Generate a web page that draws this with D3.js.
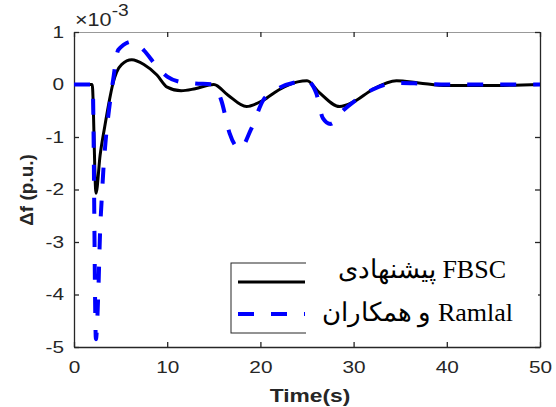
<!DOCTYPE html>
<html>
<head>
<meta charset="utf-8">
<script src="https://cdn.jsdelivr.net/npm/d3@7"></script>
<style>
  body { margin: 0; background: #fff; }
  svg { display: block; }
  .tick text { font-family: "Liberation Sans", Arial, sans-serif; font-size: 16px; fill: #262626; }
</style>
</head>
<body>
<div id="chart"></div>
<script>
"use strict";

// FBSC (proposed) response, time in s, value in 1e-3 p.u.
let fbscTime = [0, 1.95, 2.36, 2.8, 3.3, 3.8, 4.15, 5.1, 6.2, 7.5, 8.9, 10, 11.5, 13, 15, 16.5, 18.5, 20.3, 22, 24, 25, 26.3, 28.5, 30, 32, 34.6, 37, 40, 44, 50];
let fbscValue = [0, 0, -2.07, -1.35, -0.8, -0.3, 0, 0.38, 0.47, 0.38, 0.18, -0.05, -0.12, -0.08, 0.0, -0.2, -0.42, -0.3, -0.1, 0.05, 0.07, -0.15, -0.42, -0.33, -0.1, 0.07, 0.03, -0.02, -0.02, 0];

// Ramlal et al. response
let ramlalTime = [0, 2.0, 2.35, 2.6, 2.8, 3.0, 3.15, 3.4, 3.75, 4.2, 4.75, 6.3, 7.5, 8.9, 10, 11.4, 13, 14.9, 15.8, 16.7, 17.8, 19, 20.3, 21.5, 24, 25, 26.0, 26.7, 27.5, 28.9, 30, 32, 34.6, 37, 40, 50];
let ramlalValue = [0, 0, -4.85, -4.0, -2.8, -2.1, -1.63, -1.06, -0.49, 0.09, 0.66, 0.82, 0.65, 0.34, 0.15, 0.05, 0.02, 0.0, -0.3, -0.93, -1.23, -0.85, -0.3, -0.12, 0.05, 0.07, -0.17, -0.64, -0.75, -0.49, -0.33, -0.1, 0.03, 0.02, 0, 0];

let xTicks = [0, 10, 20, 30, 40, 50];
let yTicks = [1, 0, -1, -2, -3, -4, -5];
let legendLabels = ["\u067E\u06CC\u0634\u0646\u0647\u0627\u062F\u06CC FBSC", "\u0648 \u0647\u0645\u06A9\u0627\u0631\u0627\u0646 Ramlal"];

let width = 556, height = 407;
let margin = { top: 32, right: 16, bottom: 60, left: 74 };
let stretch = 1.3; // text in the source image is widened horizontally

let svg = d3.select("#chart").append("svg")
  .attr("width", width)
  .attr("height", height);

let x = d3.scaleLinear().domain([0, 50]).range([margin.left, width - margin.right]);
let y = d3.scaleLinear().domain([-5, 1]).range([height - margin.bottom, margin.top]);

let fmt = d => String(d);

// axes, ticks pointing inward
let xAxis = svg.append("g")
  .attr("transform", "translate(0," + y.range()[0] + ")")
  .call(d3.axisBottom(x).tickValues(xTicks).tickFormat(fmt).tickSizeInner(-5).tickSizeOuter(0).tickPadding(15));
let xTop = svg.append("g")
  .attr("transform", "translate(0," + y.range()[1] + ")")
  .call(d3.axisTop(x).tickValues(xTicks).tickSizeInner(-5).tickSizeOuter(0).tickFormat(""));
let yAxis = svg.append("g")
  .attr("transform", "translate(" + x.range()[0] + ",0)")
  .call(d3.axisLeft(y).tickValues(yTicks).tickFormat(fmt).tickSizeInner(-5).tickSizeOuter(0).tickPadding(10));
let yRight = svg.append("g")
  .attr("transform", "translate(" + x.range()[1] + ",0)")
  .call(d3.axisRight(y).tickValues(yTicks).tickSizeInner(-5).tickSizeOuter(0).tickFormat(""));

[xAxis, xTop, yAxis, yRight].forEach(function(g) {
  g.select(".domain").attr("stroke", "#262626").attr("stroke-width", 1.3);
  g.selectAll(".tick line").attr("stroke", "#262626").attr("stroke-width", 1.3);
});
xTop.select(".domain").attr("stroke", "#999").attr("stroke-width", 1);

xAxis.selectAll(".tick text")
  .attr("transform", "scale(" + stretch + ",1)");
yAxis.selectAll(".tick text")
  .attr("x", -10 / stretch)
  .attr("transform", "scale(" + stretch + ",1)");

// exponent label
let expo = svg.append("text")
  .attr("transform", "translate(75,26) scale(1.2,1)")
  .style("font-family", "Liberation Sans, Arial, sans-serif")
  .style("font-size", "18px")
  .attr("fill", "#262626");
expo.append("tspan").text("\u00D710");
expo.append("tspan").attr("dy", -10).style("font-size", "16px").text("-3");

// axis titles
svg.append("text")
  .attr("transform", "translate(310,402) scale(1.2,1)")
  .attr("text-anchor", "middle")
  .style("font-family", "Liberation Sans, Arial, sans-serif")
  .style("font-size", "19px")
  .style("font-weight", "bold")
  .attr("fill", "#262626")
  .text("Time(s)");

svg.append("text")
  .attr("transform", "translate(33,190) rotate(-90)")
  .attr("text-anchor", "middle")
  .style("font-family", "Liberation Sans, Arial, sans-serif")
  .style("font-size", "19px")
  .style("font-weight", "bold")
  .attr("fill", "#262626")
  .text("\u0394f (p.u.)");

// curves
let line = d3.line()
  .x(d => x(d[0]))
  .y(d => y(d[1]))
  .curve(d3.curveMonotoneX);

svg.append("clipPath").attr("id", "plotClip")
  .append("rect")
  .attr("x", x.range()[0])
  .attr("y", y.range()[1])
  .attr("width", x.range()[1] - x.range()[0])
  .attr("height", y.range()[0] - y.range()[1]);

let plot = svg.append("g").attr("clip-path", "url(#plotClip)");

plot.append("path")
  .datum(d3.zip(fbscTime, fbscValue))
  .attr("fill", "none")
  .attr("stroke", "#000")
  .attr("stroke-width", 3)
  .attr("d", line);

plot.append("path")
  .datum(d3.zip(ramlalTime, ramlalValue))
  .attr("fill", "none")
  .attr("stroke", "#0000ff")
  .attr("stroke-width", 4)
  .attr("stroke-dasharray", "16,17")
  .attr("d", line);

// legend: box edges only visible on the left part, text has a white backing
let legend = svg.append("g");
legend.append("rect")
  .attr("x", 231).attr("y", 263)
  .attr("width", 300).attr("height", 70)
  .attr("fill", "#fff")
  .attr("stroke", "#262626")
  .attr("stroke-width", 1);
legend.append("rect")
  .attr("x", 306).attr("y", 262)
  .attr("width", 232).attr("height", 72)
  .attr("fill", "#fff");

legend.append("line")
  .attr("x1", 238).attr("x2", 305)
  .attr("y1", 282).attr("y2", 282)
  .attr("stroke", "#000").attr("stroke-width", 3);
legend.append("line")
  .attr("x1", 238).attr("x2", 305)
  .attr("y1", 314).attr("y2", 314)
  .attr("stroke", "#0000ff").attr("stroke-width", 4)
  .attr("stroke-dasharray", "16,17");

legend.selectAll(".legendText")
  .data(legendLabels)
  .enter().append("text")
  .attr("class", "legendText")
  .attr("x", (d, i) => i === 0 ? 506 : 513)
  .attr("y", (d, i) => i === 0 ? 278 : 321)
  .attr("text-anchor", "end")
  .attr("direction", "ltr")
  .style("font-family", "Liberation Serif, Times New Roman, serif")
  .style("font-size", "26px")
  .attr("fill", "#000")
  .text(d => d);
</script>
</body>
</html>
